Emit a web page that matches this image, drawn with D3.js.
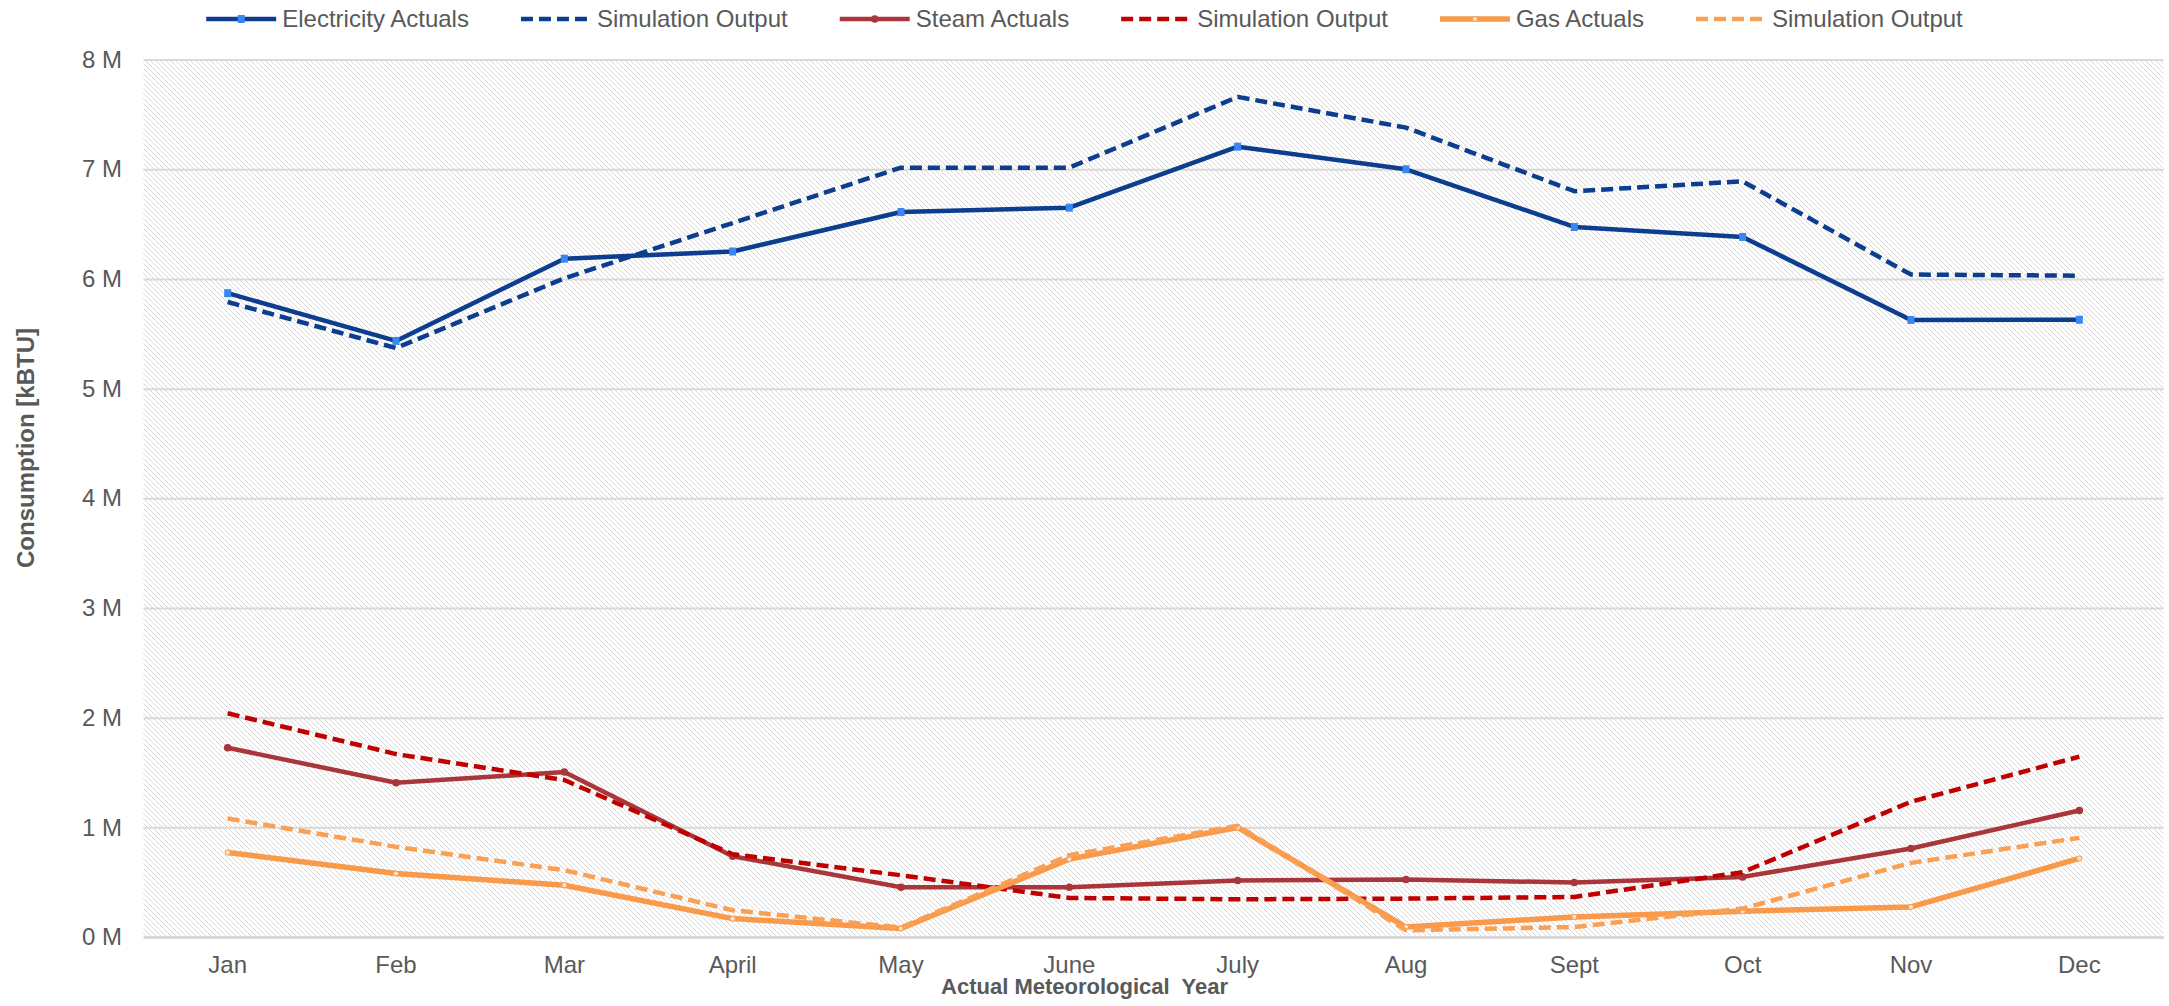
<!DOCTYPE html>
<html>
<head>
<meta charset="utf-8">
<script src="https://cdn.jsdelivr.net/npm/d3@7"></script>
<style>
  html, body { margin: 0; padding: 0; background: #fff; }
  svg { display: block; font-family: "Liberation Sans", Arial, sans-serif; }
</style>
</head>
<body>
<svg id="chart" width="2169" height="1006"></svg>
<script>
// Monthly energy consumption, kBTU
const months = ["Jan", "Feb", "Mar", "April", "May", "June", "July", "Aug", "Sept", "Oct", "Nov", "Dec"];
const electricityActuals = [5870000, 5435000, 6185000, 6250000, 6610000, 6650000, 7206000, 7000000, 6474000, 6383000, 5626000, 5628000];
const electricitySimulation = [5790000, 5370000, 6006000, 6510000, 7015000, 7015000, 7660000, 7380000, 6800000, 6890000, 6040000, 6030000];
const steamActuals = [1726000, 1406000, 1504000, 737000, 454000, 454000, 515000, 524000, 497000, 548000, 807000, 1154000];
const steamSimulation = [2040000, 1668000, 1431000, 755000, 563000, 356000, 344000, 350000, 365000, 591000, 1233000, 1644000];
const gasActuals = [771000, 579000, 472000, 168000, 77000, 710000, 999000, 91000, 183000, 235000, 274000, 716000];
const gasSimulation = [1081000, 822000, 609000, 244000, 86000, 746000, 1014000, 61000, 91000, 259000, 676000, 904000];
const yTicks = [0, 1000000, 2000000, 3000000, 4000000, 5000000, 6000000, 7000000, 8000000];
const seriesNames = ["Electricity Actuals", "Simulation Output", "Steam Actuals", "Simulation Output", "Gas Actuals", "Simulation Output"];

const svg = d3.select("#chart");
const W = 2169, H = 1006;
const plot = { left: 143.5, right: 2163.5, top: 59.6, bottom: 937 };
const textColor = "#595959";

const x = d3.scaleBand().domain(months).range([plot.left, plot.right]);
const y = d3.scaleLinear().domain([0, 8000000]).range([plot.bottom, plot.top]);
const cx = m => x(m) + x.bandwidth() / 2;

const series = [
  { name: seriesNames[0], values: electricityActuals, color: "#0c3d8e", width: 4.5, dash: null, marker: "square", markerFill: "#3a86f2" },
  { name: seriesNames[1], values: electricitySimulation, color: "#0c3d8e", width: 4.5, dash: "12,6", marker: null },
  { name: seriesNames[2], values: steamActuals, color: "#a8363a", width: 4.5, dash: null, marker: "circle", markerFill: "#a8363a" },
  { name: seriesNames[3], values: steamSimulation, color: "#c00000", width: 4.5, dash: "12,6", marker: null },
  { name: seriesNames[4], values: gasActuals, color: "#f99a4a", width: 5.5, dash: null, marker: "ring", markerFill: "#fde3cc" },
  { name: seriesNames[5], values: gasSimulation, color: "#f9a054", width: 4.5, dash: "12,6", marker: null }
];

// Hatched plot background (downward diagonal)
const defs = svg.append("defs");
const P = 5;
const pat = defs.append("pattern")
  .attr("id", "hatch")
  .attr("patternUnits", "userSpaceOnUse")
  .attr("width", P).attr("height", P);
pat.append("rect").attr("width", P).attr("height", P).attr("fill", "#ffffff");
pat.append("path")
  .attr("d", `M-1,-1 L${P + 1},${P + 1} M-1,${P - 1} L1,${P + 1} M${P - 1},-1 L${P + 1},1`)
  .attr("stroke", "#d8d8d8")
  .attr("stroke-width", 1);

svg.append("rect")
  .attr("x", plot.left).attr("y", plot.top)
  .attr("width", plot.right - plot.left).attr("height", plot.bottom - plot.top)
  .attr("fill", "url(#hatch)");

// Horizontal gridlines
const grid = svg.append("g")
  .attr("transform", `translate(${plot.left},0)`)
  .call(d3.axisLeft(y).tickValues(yTicks).tickSize(-(plot.right - plot.left)).tickFormat(""));
grid.select(".domain").remove();
grid.selectAll("line").attr("stroke", "#d9d9d9").attr("stroke-width", 2);

// Y axis labels
const yAxis = svg.append("g")
  .attr("transform", `translate(${plot.left},0)`)
  .call(d3.axisLeft(y).tickValues(yTicks).tickSize(0).tickPadding(21.5)
    .tickFormat(d => (d / 1000000) + " M"));
yAxis.select(".domain").remove();
yAxis.selectAll("text")
  .attr("font-size", 24)
  .attr("font-family", "Liberation Sans, Arial, sans-serif")
  .attr("fill", textColor);

// X axis
const xAxis = svg.append("g")
  .attr("transform", `translate(0,${plot.bottom})`)
  .call(d3.axisBottom(x).tickSize(0).tickPadding(19));
xAxis.select(".domain").attr("stroke", "#d9d9d9").attr("stroke-width", 3);
xAxis.selectAll("text")
  .attr("font-size", 24)
  .attr("font-family", "Liberation Sans, Arial, sans-serif")
  .attr("fill", textColor);

// Axis titles
svg.append("text")
  .attr("x", W / 2).attr("y", 994)
  .attr("text-anchor", "middle")
  .attr("font-size", 22)
  .attr("font-weight", "bold")
  .attr("fill", textColor)
  .attr("xml:space", "preserve")
  .style("white-space", "pre")
  .text("Actual Meteorological  Year");

svg.append("text")
  .attr("transform", "translate(34,448) rotate(-90)")
  .attr("text-anchor", "middle")
  .attr("font-size", 24)
  .attr("font-weight", "bold")
  .attr("fill", textColor)
  .text("Consumption [kBTU]");

// Series lines and markers
const line = d3.line()
  .x((d, i) => cx(months[i]))
  .y(d => y(d));

function drawMarker(g, s, px, py) {
  if (s.marker === "square") {
    g.append("rect")
      .attr("x", px - 3.5).attr("y", py - 4)
      .attr("width", 7).attr("height", 8)
      .attr("fill", s.markerFill);
  } else if (s.marker === "circle") {
    g.append("circle").attr("cx", px).attr("cy", py).attr("r", 3.8)
      .attr("fill", s.markerFill);
  } else if (s.marker === "ring") {
    g.append("circle").attr("cx", px).attr("cy", py).attr("r", 2.6)
      .attr("fill", s.markerFill).attr("stroke", s.color).attr("stroke-width", 1);
  }
}

series.forEach(s => {
  const g = svg.append("g");
  g.append("path")
    .datum(s.values)
    .attr("d", line)
    .attr("fill", "none")
    .attr("stroke", s.color)
    .attr("stroke-width", s.width)
    .attr("stroke-linejoin", "round")
    .attr("stroke-dasharray", s.dash);
  if (s.marker) {
    s.values.forEach((v, i) => drawMarker(g, s, cx(months[i]), y(v)));
  }
});

// Legend, centered across the top
const legend = svg.append("g");
const lineLen = 70, textGap = 6, itemGap = 52, legendY = 19;
const items = series.map(s => {
  const g = legend.append("g");
  g.append("line")
    .attr("x1", 0).attr("x2", lineLen)
    .attr("y1", legendY).attr("y2", legendY)
    .attr("stroke", s.color)
    .attr("stroke-width", s.width)
    .attr("stroke-dasharray", s.dash);
  if (s.marker) drawMarker(g, s, lineLen / 2, legendY);
  const t = g.append("text")
    .attr("x", lineLen + textGap).attr("y", legendY + 8)
    .attr("font-size", 24)
    .attr("fill", textColor)
    .text(s.name);
  return { g, w: lineLen + textGap + t.node().getComputedTextLength() };
});
const total = d3.sum(items, d => d.w) + itemGap * (items.length - 1);
let pos = (W - total) / 2;
items.forEach(it => {
  it.g.attr("transform", `translate(${pos},0)`);
  pos += it.w + itemGap;
});
</script>
</body>
</html>
